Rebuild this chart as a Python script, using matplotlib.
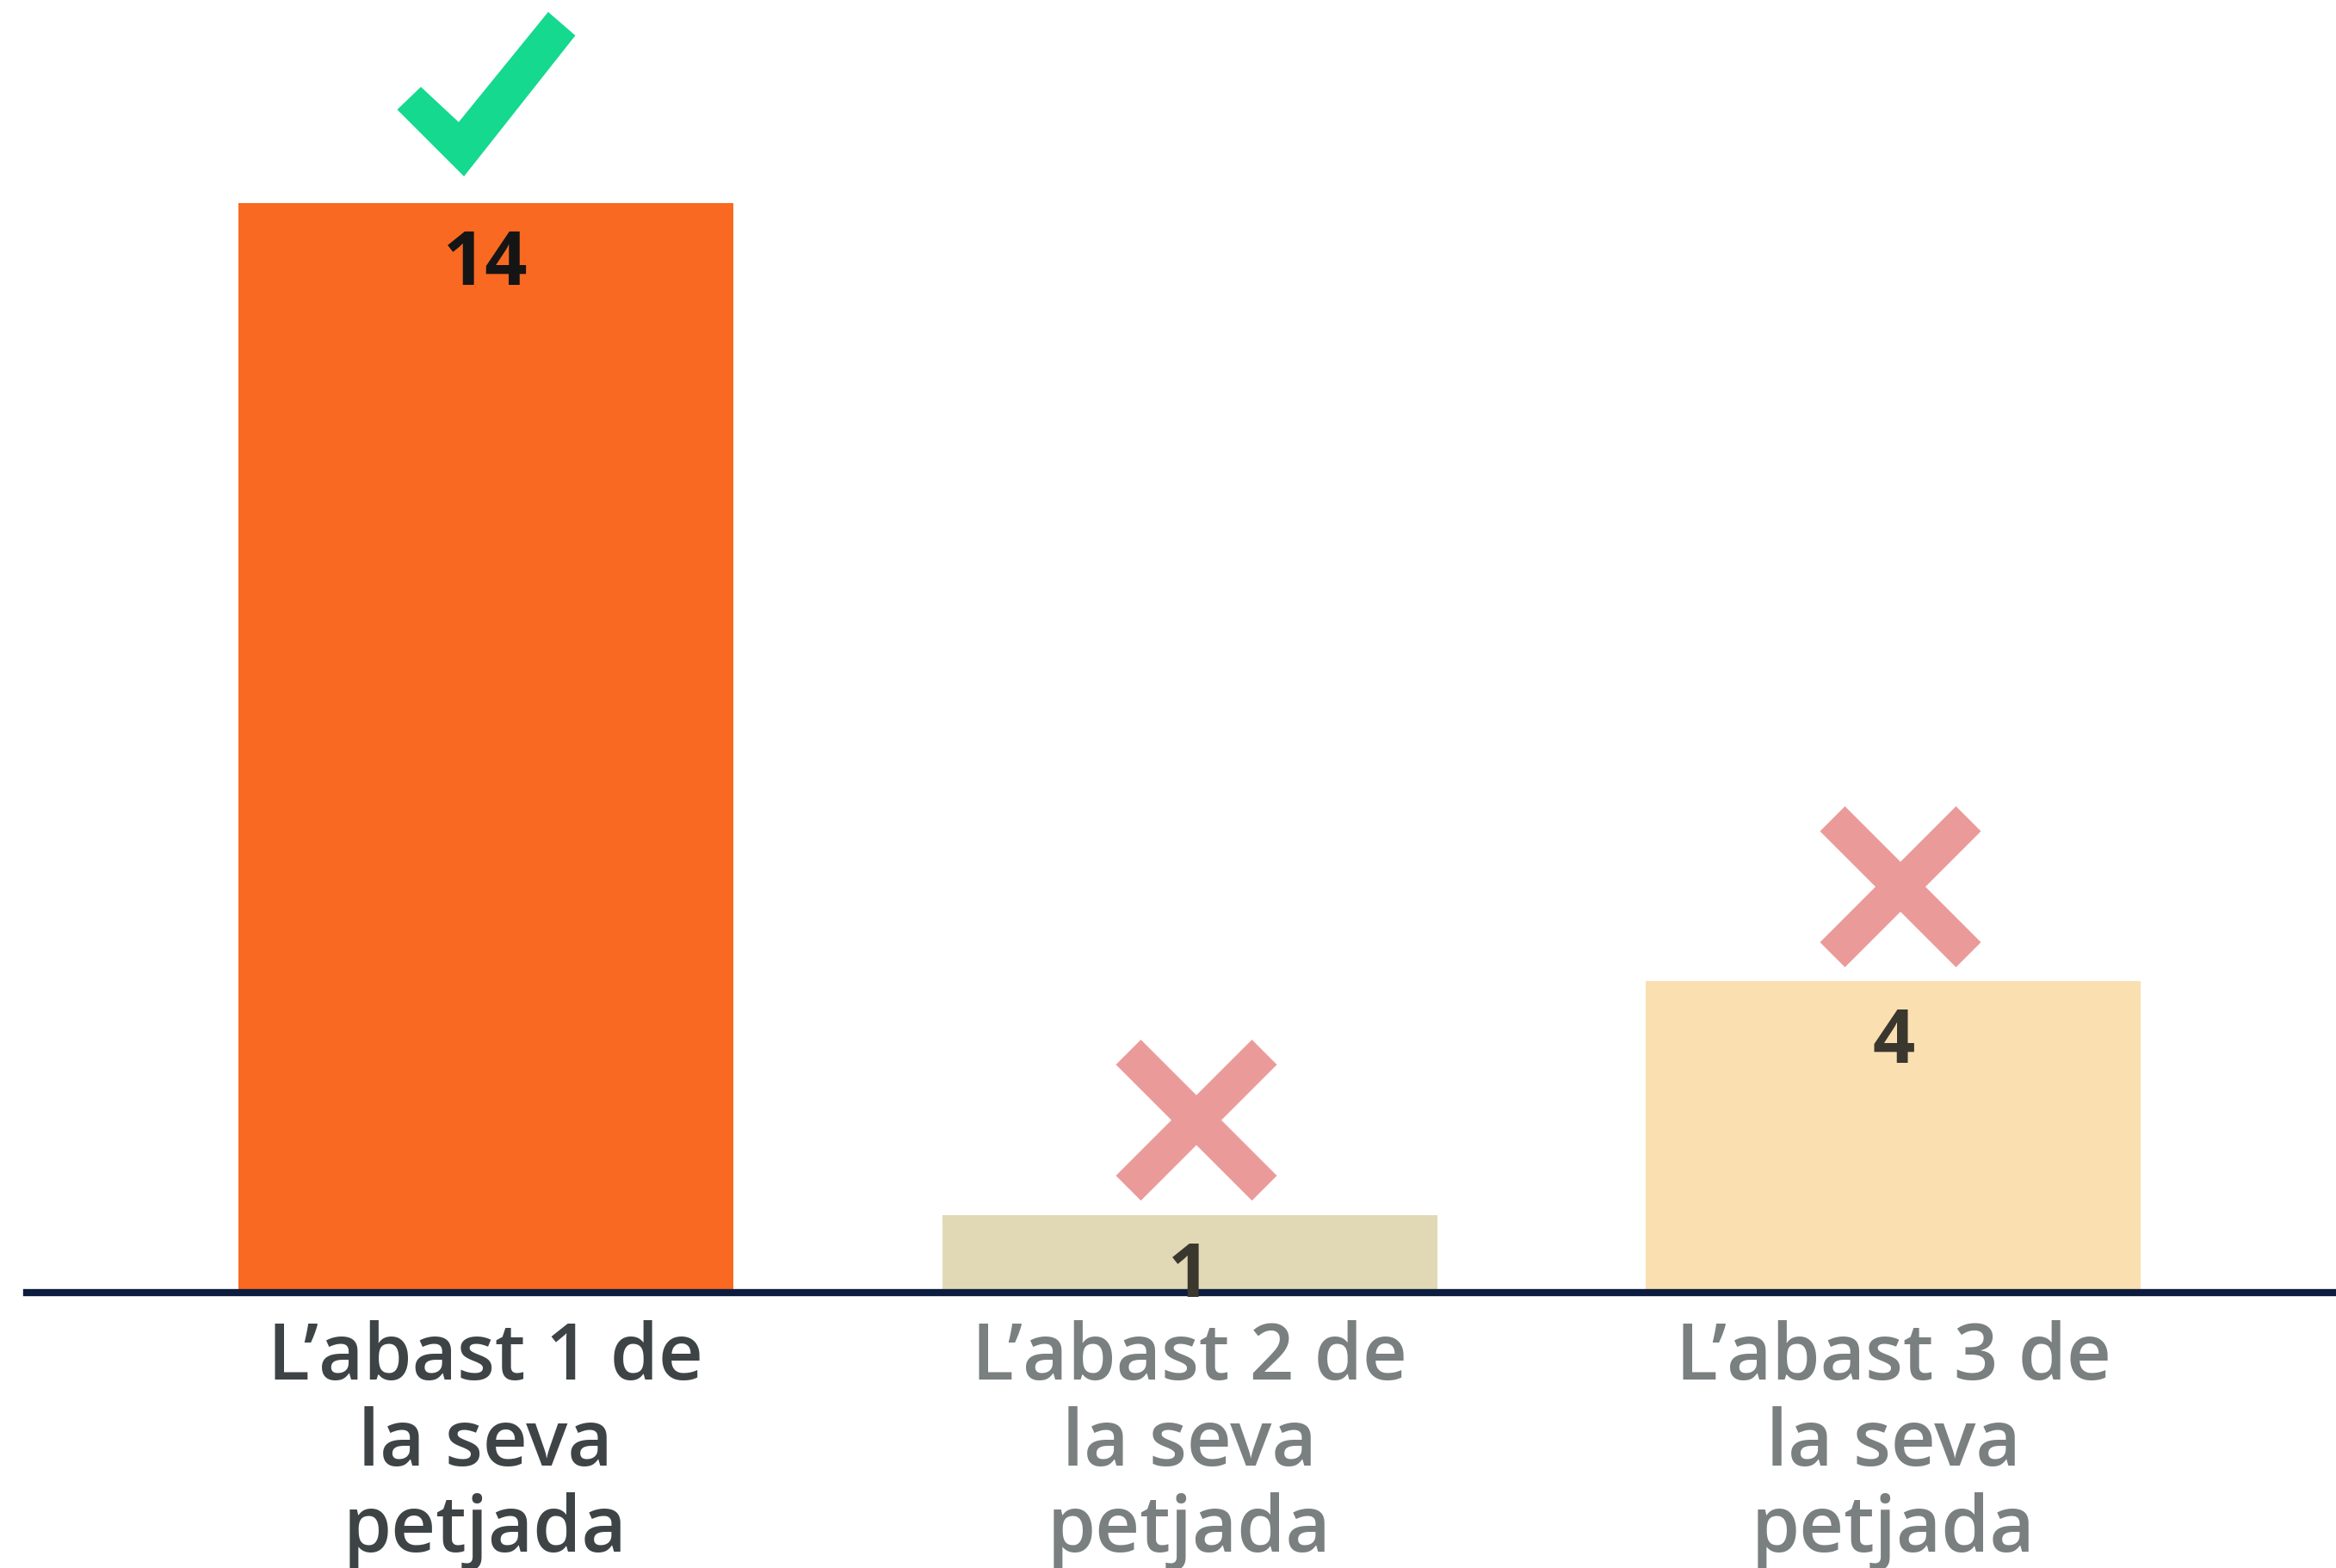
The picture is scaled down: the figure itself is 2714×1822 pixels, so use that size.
import matplotlib
matplotlib.use("Agg")
import matplotlib.pyplot as plt
from matplotlib.transforms import Affine2D, ScaledTranslation
from matplotlib.patches import Polygon

# ---- data ----
categories = ["L\u2019abast 1 de\nla seva\npetjada",
              "L\u2019abast 2 de\nla seva\npetjada",
              "L\u2019abast 3 de\nla seva\npetjada"]
values = [14, 1, 4]
value_labels = ["14", "1", "4"]
is_correct = [True, False, False]

# ---- styles ----
bar_colors = ["#F96921", "#E1D9B5", "#FADFB0"]
value_colors = ["#151515", "#3A372E", "#3A372E"]
cat_colors = ["#3E4446", "#7A7F80", "#7A7F80"]
check_color = "#14D98F"
cross_color = "#EB9A9A"
base_color = "#0C1C3E"
FONT = ["Open Sans", "DejaVu Sans"]

W, H, DPI = 2714, 1822, 100
fig = plt.figure(figsize=(W / DPI, H / DPI), dpi=DPI)
fig.patch.set_facecolor("white")

base_px = 1502           # y pixel (from top) of baseline
left_px = 31
unit_px = 90.4           # pixels per value unit
spacing_px = 818.0
center0_px = 564.0

ax = fig.add_axes([left_px / W, (H - base_px) / H, 1 - left_px / W, base_px / H])
ax.set_xlim(-(center0_px - left_px) / spacing_px, (W - center0_px) / spacing_px)
ax.set_ylim(0, base_px / unit_px)
ax.axis("off")

x = list(range(len(values)))
ax.bar(x, values, width=575 / spacing_px, color=bar_colors, zorder=1)
ax.axhline(0, color=base_color, lw=6, clip_on=False, zorder=2)

for i, (v, lab) in enumerate(zip(values, value_labels)):
    ax.annotate(lab, xy=(i, v), xytext=(0, -95), textcoords="offset pixels",
                ha="center", va="baseline", fontsize=62, fontweight="bold",
                color=value_colors[i], family=FONT, zorder=3)

for i, cat in enumerate(categories):
    for k, line in enumerate(cat.split("\n")):
        ax.annotate(line, xy=(i, 0), xytext=(0, -(101 + 100 * k)),
                    textcoords="offset pixels", ha="center", va="baseline",
                    fontsize=65, fontweight="semibold", color=cat_colors[i],
                    family=FONT, annotation_clip=False)

# check / cross symbols anchored on bar tops (pixel offsets, y up)
check_shape = [(-101, 109), (-75, 134), (-31, 93), (73, 221), (103, 195), (-25, 33)]
for i, (v, ok) in enumerate(zip(values, is_correct)):
    anchor = ScaledTranslation(i, v, ax.transData)
    if ok:
        ax.add_patch(Polygon(check_shape, closed=True, facecolor=check_color,
                             edgecolor=check_color, lw=1.5,
                             transform=Affine2D() + anchor, clip_on=False, zorder=4))
    else:
        tr = Affine2D().translate(8, 110) + anchor
        for sgn in (1, -1):
            ax.plot([-79, 79], [-79 * sgn, 79 * sgn], color=cross_color,
                    lw=41 * 72 / DPI, solid_capstyle="butt", transform=tr,
                    clip_on=False, zorder=4)

fig.savefig("out.png", dpi=DPI, facecolor="white")
